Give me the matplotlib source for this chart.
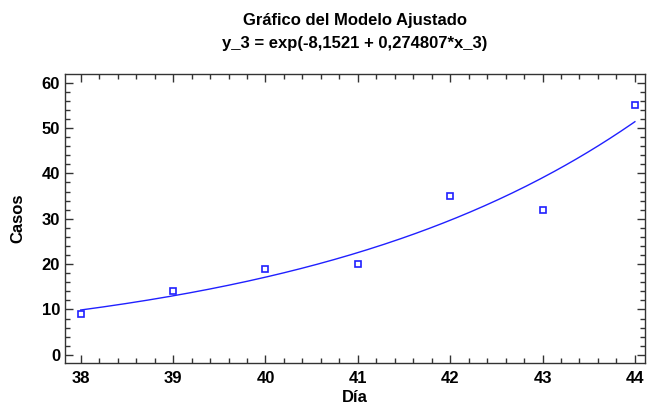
import numpy as np
import matplotlib
matplotlib.use('Agg')
import matplotlib.pyplot as plt
from matplotlib.ticker import MultipleLocator

plt.rcParams['font.family'] = ['Liberation Sans', 'DejaVu Sans']
plt.rcParams['font.weight'] = 'bold'

# ── Data ──────────────────────────────────────────────
dias  = [38, 39, 40, 41, 42, 43, 44]
casos = [9, 14, 19, 20, 35, 32, 55]

# fitted model coefficients (from title)
b0 = -8.1521
b1 = 0.274807

x_fit = np.linspace(38, 44, 200)
y_fit = np.exp(b0 + b1 * x_fit)

blue = '#2020ff'

fig = plt.figure(figsize=(6.47, 4.04), dpi=100)
ax = fig.add_axes([0.1005, 0.1015, 0.8965, 0.7153])

ax.plot(x_fit, y_fit, color=blue, lw=1.0)
ax.plot(dias, casos, linestyle='none', marker='s', ms=4.5, mfc='white',
        mec=blue, mew=1.2)

ax.set_xlim(37.83, 44.11)
ax.set_ylim(-1.8, 61.9)
ax.xaxis.set_major_locator(MultipleLocator(1))
ax.xaxis.set_minor_locator(MultipleLocator(0.2))
ax.yaxis.set_major_locator(MultipleLocator(10))
ax.yaxis.set_minor_locator(MultipleLocator(2))
ax.tick_params(which='both', direction='in', top=True, right=True,
               labelsize=12, color='#333333', width=1)
ax.tick_params(which='major', length=6)
ax.tick_params(which='minor', length=3.5)
ax.tick_params(axis='x', pad=6)
for lab in ax.get_xticklabels() + ax.get_yticklabels():
    lab.set_fontweight('bold')
for s in ax.spines.values():
    s.set_color('#333333')
    s.set_linewidth(1.0)

ax.set_xlabel('Día', fontsize=12, fontweight='bold', labelpad=3)
ax.set_ylabel('Casos', fontsize=12, fontweight='bold', labelpad=12)
ax.set_title('Gráfico del Modelo Ajustado\ny_3 = exp(-8,1521 + 0,274807*x_3)',
             fontsize=12, fontweight='bold', pad=19, linespacing=1.65)

fig.savefig('out.png', dpi=100)
